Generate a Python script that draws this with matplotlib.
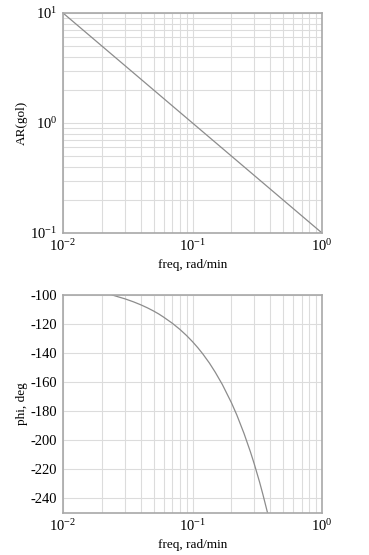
import matplotlib
matplotlib.use("Agg")
import matplotlib.pyplot as plt
from matplotlib.ticker import LogLocator, FixedLocator

plt.rcParams['font.family'] = ['Liberation Serif', 'DejaVu Serif']
plt.rcParams['mathtext.fontset'] = 'custom'
plt.rcParams['mathtext.rm'] = 'Liberation Serif'
plt.rcParams['mathtext.it'] = 'Liberation Serif:italic'
plt.rcParams['axes.unicode_minus'] = False

# Amplitude ratio data
ar_freq = [0.01, 0.02, 0.05, 0.1, 0.2, 0.5, 1.0]
ar_vals = [10.0, 5.0, 2.0, 1.0, 0.5, 0.2, 0.1]

# Phase data
ph_freq = [0.024, 0.027, 0.03, 0.035, 0.04, 0.045, 0.05, 0.055, 0.06, 0.07, 0.08, 0.09,
           0.1, 0.11, 0.12, 0.135, 0.15, 0.17, 0.2, 0.22, 0.25, 0.28, 0.3, 0.33, 0.35, 0.38]
ph_vals = [-100, -101.4, -102.6, -104.7, -106.8, -108.9, -111, -113.1, -115.3, -119.5,
           -123.7, -127.9, -132.1, -136.3, -140.5, -146.8, -153.2, -161.6, -174.2, -182.6,
           -195.3, -207.9, -216.3, -228.9, -237.4, -250]

phi_ticks = [-100, -120, -140, -160, -180, -200, -220, -240]

W, H = 369, 555
fig = plt.figure(figsize=(W/100, H/100), dpi=100)

grid_c = '#dcdcdc'
spine_c = '#a8a8a8'
line_c = '#8c8c8c'
fs = 10.5
lfs = 9.5

def style(ax):
    ax.grid(True, which='major', color=grid_c, lw=0.8)
    ax.grid(True, which='minor', color=grid_c, lw=0.8)
    for s in ax.spines.values():
        s.set_color(spine_c)
        s.set_linewidth(1.2)
    ax.tick_params(which='both', length=0, labelsize=fs, pad=4)
    ax.set_axisbelow(True)

ax1 = fig.add_axes([63/W, 1-233/H, 259/W, 220/H])
ax1.loglog(ar_freq, ar_vals, color=line_c, lw=0.9)
ax1.set_xlim(0.01, 1)
ax1.set_ylim(0.1, 10)
ax1.xaxis.set_minor_locator(LogLocator(base=10, subs=range(2, 10)))
ax1.yaxis.set_minor_locator(LogLocator(base=10, subs=range(2, 10)))
ax1.set_xlabel('freq, rad/min', fontsize=lfs, labelpad=3)
ax1.set_ylabel('AR(gol)', fontsize=lfs, labelpad=2)
style(ax1)

ax2 = fig.add_axes([63/W, 1-513/H, 259/W, 218/H])
ax2.semilogx(ph_freq, ph_vals, color=line_c, lw=0.9)
ax2.set_xlim(0.01, 1)
ax2.set_ylim(-250, -100)
ax2.xaxis.set_minor_locator(LogLocator(base=10, subs=range(2, 10)))
ax2.yaxis.set_major_locator(FixedLocator(phi_ticks))
ax2.set_xlabel('freq, rad/min', fontsize=lfs, labelpad=3)
ax2.set_ylabel('phi, deg', fontsize=lfs, labelpad=2)
style(ax2)

fig.savefig('out.png', dpi=100)
